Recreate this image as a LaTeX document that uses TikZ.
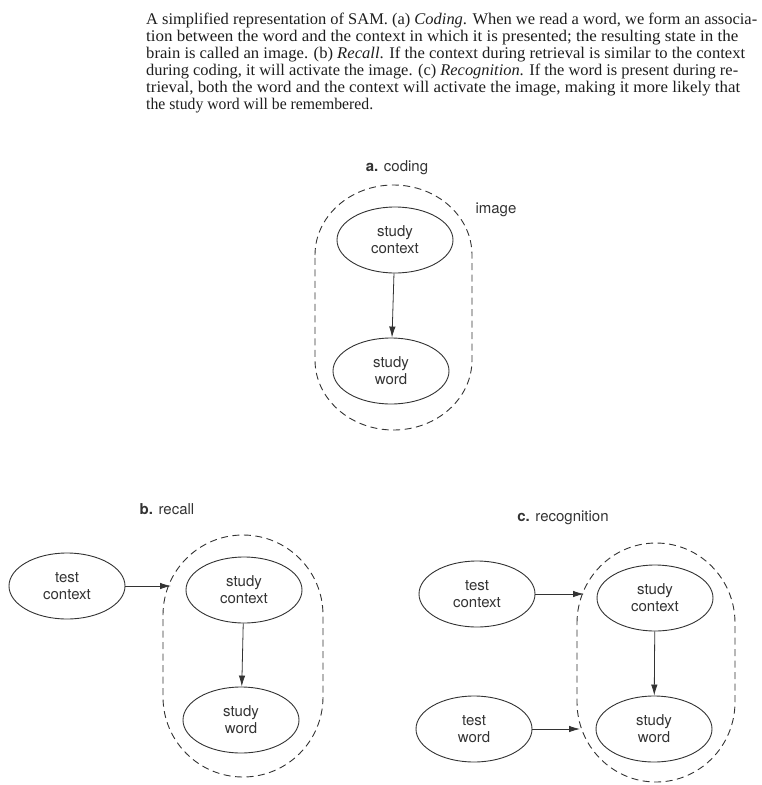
\documentclass[tikz,border=0pt]{standalone}
\usepackage{graphicx}
\usepackage{fontspec}
\setmainfont{Liberation Serif}
\newfontfamily\lblfont{TeX Gyre Heros}
\usetikzlibrary{shapes.geometric,arrows.meta}
\definecolor{ink}{HTML}{333333}
\definecolor{cap}{HTML}{1E1E1E}
\begin{document}
\begin{tikzpicture}[x=1pt,y=-1pt,
  state/.style={ellipse,draw=ink,line width=0.9pt,minimum width=116pt,minimum height=66pt,inner sep=0pt,align=center,text=ink,font=\lblfont\fontsize{15}{17}\selectfont},
  lbl/.style={text=ink,font=\lblfont\fontsize{15}{17}\selectfont,inner sep=0pt},
  arr/.style={draw=ink,line width=0.8pt,-{Latex[length=11pt,width=6.5pt]}},
  grp/.style={draw=ink,line width=0.9pt,dash pattern=on 7pt off 4.5pt},
  capline/.style={anchor=base west,inner sep=0pt,text=cap,font=\fontsize{16.3}{17}\selectfont}
]
\useasboundingbox (0,0) rectangle (761,785);

% caption
\node[capline] (l1) at (146,24)  {\resizebox{611pt}{\height}{A simplified representation of SAM. (a) \textit{Coding}. When we read a word, we form an associa-}};
\node[capline] (l2) at (146,41)  {\resizebox{592pt}{\height}{tion between the word and the context in which it is presented; the resulting state in the}};
\node[capline] (l3) at (146,58)  {\resizebox{599pt}{\height}{brain is called an image. (b) \textit{Recall}. If the context during retrieval is similar to the context}};
\node[capline] (l4) at (146,75)  {\resizebox{592pt}{\height}{during coding, it will activate the image. (c) \textit{Recognition}. If the word is present during re-}};
\node[capline] (l5) at (146,92)  {\resizebox{594pt}{\height}{trieval, both the word and the context will activate the image, making it more likely that}};
\node[capline] (l6) at (146,109) {\resizebox{227pt}{\height}{the study word will be remembered.}};

% panel a
\node[lbl] (la) at (397,168) {\bfseries a.\mdseries{} coding};
\node[lbl] (img) at (496,210) {image};
\draw[grp] (315,255) arc[start angle=180,end angle=360,x radius=78.5,y radius=70] -- (472,360) arc[start angle=0,end angle=180,x radius=78.5,y radius=70] -- cycle;
\node[state] (sca) at (395,240) {study\\context};
\node[state] (swa) at (391,371) {study\\word};
\draw[arr] (sca) -- (swa);

% panel b
\node[lbl] (lb) at (167,509) {\bfseries b.\mdseries{} recall};
\draw[grp] (163,615) arc[start angle=180,end angle=360,x radius=80,y radius=80] -- (323,697) arc[start angle=0,end angle=180,x radius=80,y radius=80] -- cycle;
\node[state] (tcb) at (67,586) {test\\context};
\node[state] (scb) at (244,590) {study\\context};
\node[state] (swb) at (241,720) {study\\word};
\coordinate (bin) at (171,586);
\draw[arr] (tcb) -- (bin);
\draw[arr] (scb) -- (swb);

% panel c
\node[lbl] (lc) at (563,518) {\bfseries c.\mdseries{} recognition};
\draw[grp] (577,623) arc[start angle=180,end angle=360,x radius=79,y radius=80] -- (735,702) arc[start angle=0,end angle=180,x radius=79,y radius=80] -- cycle;
\node[state] (tcc) at (477,594) {test\\context};
\node[state] (twc) at (474,729) {test\\word};
\node[state] (scc) at (655,598) {study\\context};
\node[state] (swc) at (654,729) {study\\word};
\coordinate (cin1) at (584,594);
\coordinate (cin2) at (580,729);
\draw[arr] (tcc) -- (cin1);
\draw[arr] (twc) -- (cin2);
\draw[arr] (scc) -- (swc);
\end{tikzpicture}
\end{document}
